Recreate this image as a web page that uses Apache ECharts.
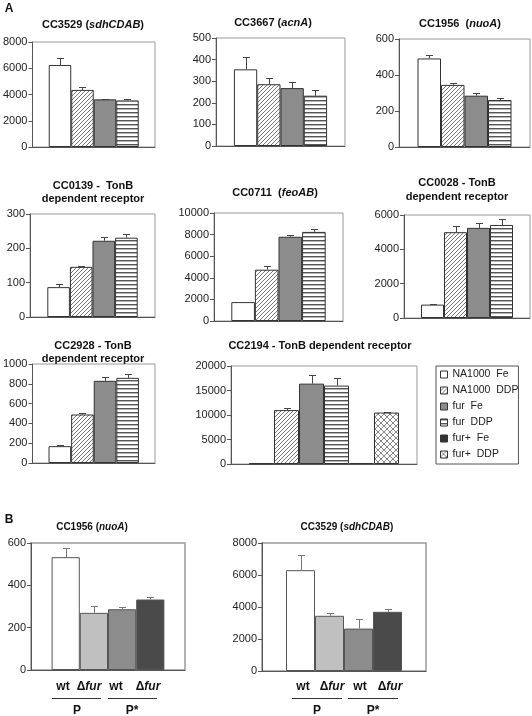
<!DOCTYPE html>
<html><head><meta charset="utf-8">
<script src="https://cdn.jsdelivr.net/npm/echarts@6.0.0/dist/echarts.min.js"></script>
<style>html,body{margin:0;padding:0;background:#fff}#c{width:532px;height:716px}</style>
</head><body><div id="c"></div>
<script>
// ---- data ----
const conditionsA = ['NA1000  Fe', 'NA1000  DDP', 'fur  Fe', 'fur  DDP', 'fur+  Fe', 'fur+  DDP'];
const cc3529 = [6250, 4350, 3630, 3550];
const cc3529Err = [560, 200, 50, 110];
const cc3667 = [355, 286, 268, 233];
const cc3667Err = [55, 27, 30, 27];
const cc1956 = [492, 345, 285, 261];
const cc1956Err = [20, 10, 17, 14];
const cc0139 = [87, 146, 222, 231];
const cc0139Err = [9, 3, 12, 11];
const cc0711 = [1750, 4750, 7800, 8250];
const cc0711Err = [50, 300, 180, 300];
const cc0028 = [780, 5000, 5250, 5420];
const cc0028Err = [30, 350, 300, 350];
const cc2928 = [170, 490, 830, 860];
const cc2928Err = [8, 20, 40, 40];
const cc2194 = [150, 11000, 16400, 16000, 200, 10500];
const cc2194Err = [0, 500, 1800, 1500, 0, 100];
const strainsB = ['wt', 'Δfur', 'wt', 'Δfur'];
const promotersB = ['P', 'P*'];
const bNuoA = [533, 270, 287, 333];
const bNuoAErr = [43, 32, 11, 13];
const bSdh = [6300, 3450, 2650, 3700];
const bSdhErr = [950, 150, 600, 200];

// ---- patterns ----
function pat(size, draw) {
  const c = document.createElement('canvas'); c.width = size; c.height = size;
  const g = c.getContext('2d'); g.fillStyle = '#fff'; g.fillRect(0, 0, size, size);
  draw(g); return { image: c, repeat: 'repeat' };
}
const diag = pat(4, g => { g.fillStyle = '#777'; for (let k = 0; k < 4; k++) g.fillRect(k, 3 - k, 1, 1); });
const horiz = pat(4, g => { g.fillStyle = '#555'; g.fillRect(0, 0, 4, 1); g.fillStyle = '#b5b5b5'; g.fillRect(0, 1, 4, 1); });
const cross = pat(6, g => { g.fillStyle = '#888'; for (let k = 0; k < 6; k++) { g.fillRect(k, k, 1, 1); g.fillRect(k, 5 - k, 1, 1); } });
const colorsA = ['#ffffff', diag, '#8c8c8c', horiz, '#333333', cross];
const colorsB = ['#ffffff', '#c0c0c0', '#8c8c8c', '#4a4a4a'];

const FF = 'Liberation Sans, Arial, Helvetica, sans-serif';
const panels = [
  { v: cc3529, e: cc3529Err, max: 8000, iv: 2000, g: { left: 30, top: 42, width: 125, height: 105 }, bw: 22.5 },
  { v: cc3667, e: cc3667Err, max: 500, iv: 100, g: { left: 216, top: 38, width: 129, height: 108 }, bw: 23.3 },
  { v: cc1956, e: cc1956Err, max: 600, iv: 200, g: { left: 399, top: 39, width: 131, height: 108 }, bw: 23.5 },
  { v: cc0139, e: cc0139Err, max: 300, iv: 100, g: { left: 30, top: 214, width: 125, height: 103 }, bw: 22.6 },
  { v: cc0711, e: cc0711Err, max: 10000, iv: 2000, g: { left: 214, top: 213, width: 129, height: 108 }, bw: 23.6 },
  { v: cc0028, e: cc0028Err, max: 6000, iv: 2000, g: { left: 404, top: 215, width: 126, height: 103 }, bw: 23 },
  { v: cc2928, e: cc2928Err, max: 1000, iv: 200, g: { left: 30, top: 364, width: 125, height: 99 }, bw: 22.6 },
  { v: cc2194, e: cc2194Err, max: 20000, iv: 5000, g: { left: 231, top: 366, width: 186, height: 98 }, bw: 25 },
  { v: bNuoA, e: bNuoAErr, max: 600, iv: 200, g: { left: 31, top: 543, width: 154, height: 127 }, bw: 28.2, B: true },
  { v: bSdh, e: bSdhErr, max: 8000, iv: 2000, g: { left: 262, top: 543, width: 164, height: 128 }, bw: 29, B: true }
];

const grid = [], xAxis = [], yAxis = [], series = [];
panels.forEach((p, gi) => {
  grid.push(Object.assign({ show: true, borderColor: '#999', borderWidth: p.B ? 1.5 : 1, backgroundColor: 'transparent' }, p.g));
  xAxis.push({ type: 'category', gridIndex: gi, data: [''], axisLine: { lineStyle: { color: '#555' } }, axisTick: { show: false }, axisLabel: { show: false } });
  yAxis.push({ type: 'value', gridIndex: gi, min: 0, max: p.max, interval: p.iv, splitLine: { show: false },
    axisLine: { show: true, lineStyle: { color: '#555' } }, axisTick: { show: true, length: 4, lineStyle: { color: '#555' } },
    axisLabel: { fontSize: 11, color: '#222', fontFamily: FF, margin: 5, formatter: v => String(v) } });
  const n = p.v.length;
  p.v.forEach((val, i) => {
    series.push({ type: 'bar', name: p.B ? ('B' + gi + '-' + i) : conditionsA[i], xAxisIndex: gi, yAxisIndex: gi,
      data: [val], barWidth: p.bw, barGap: '0%',
      itemStyle: { color: p.B ? colorsB[i] : colorsA[i], borderColor: p.B ? '#555' : '#333', borderWidth: 1 } });
  });
  series.push({ type: 'custom', xAxisIndex: gi, yAxisIndex: gi, z: 5,
    data: p.v.map((val, i) => [0, val, p.e[i], i]), encode: { x: 0, y: 1 },
    renderItem: (params, api) => {
      const i = api.value(3), val = api.value(1), er = api.value(2);
      if (!er) return null;
      const p0 = api.coord([0, val]), p1 = api.coord([0, val + er]);
      const x = Math.round(p0[0] + (i - (n - 1) / 2) * p.bw) + 0.5;
      const y1 = Math.round(p1[1]) + 0.5;
      const col = p.B ? '#777' : '#444';
      return { type: 'group', children: [
        { type: 'line', shape: { x1: x, y1: p0[1], x2: x, y2: y1 }, style: { stroke: col, lineWidth: 1 } },
        { type: 'line', shape: { x1: x - 3.5, y1: y1, x2: x + 3.5, y2: y1 }, style: { stroke: col, lineWidth: 1 } }
      ] };
    } });
});

function t(text, x, y, size, extra) {
  return { type: 'text', silent: true, style: Object.assign({ text: text, x: x, y: y, align: 'center', verticalAlign: 'middle',
    fontSize: size, fontWeight: 'bold', fontFamily: FF, fill: '#111',
    rich: { i: { fontStyle: 'italic', fontWeight: 'bold', fontSize: size, fontFamily: FF, fill: '#111' } } }, extra || {}) };
}
function ln(x1, x2, y) { return { type: 'line', silent: true, shape: { x1: x1, y1: y, x2: x2, y2: y }, style: { stroke: '#333', lineWidth: 1 } }; }

const graphic = [
  t('A', 9, 9, 12), t('B', 9, 520, 12),
  t('CC3529 ({i|sdhCDAB})', 93, 25, 11),
  t('CC3667 ({i|acnA})', 273, 23, 11),
  t('CC1956  ({i|nuoA})', 460, 24, 11),
  t('CC0139 -  TonB', 93, 186, 11), t('dependent receptor', 93, 199, 11),
  t('CC0711  ({i|feoAB})', 275, 193, 11),
  t('CC0028 - TonB', 457, 183, 11), t('dependent receptor', 457, 197, 11),
  t('CC2928 - TonB', 93, 346, 11), t('dependent receptor', 93, 359, 11),
  t('CC2194 - TonB dependent receptor', 320, 346, 11),
  t('CC1956 ({i|nuoA})', 92, 527, 10), t('CC3529 ({i|sdhCDAB})', 347, 527, 10)
];
const bLabelX = [[63, 89, 116, 148], [303, 332, 360, 390]];
const bLineX = [[[52, 101], [108, 157]], [[292, 342], [348, 398]]];
const bPX = [[77, 132], [317, 373]];
[0, 1].forEach(k => {
  strainsB.forEach((s, i) => {
    const txt = s.startsWith('Δ') ? 'Δ{i|' + s.slice(1) + '}' : s;
    graphic.push(t(txt, bLabelX[k][i], 687, 12));
  });
  bLineX[k].forEach(xx => graphic.push(ln(xx[0], xx[1], 698.5)));
  promotersB.forEach((s, i) => graphic.push(t(s, bPX[k][i], 711, 12)));
});

const chart = echarts.init(document.getElementById('c'), null, { renderer: 'canvas' });
chart.setOption({
  animation: false,
  grid: grid, xAxis: xAxis, yAxis: yAxis, series: series, graphic: graphic,
  legend: { data: conditionsA, orient: 'vertical', left: 436, top: 366, icon: 'rect', itemWidth: 7, itemHeight: 7,
    itemGap: 3, padding: [2, 0, 3, 4], borderColor: '#555', borderWidth: 1, selectedMode: false,
    textStyle: { fontSize: 10.5, color: '#222', fontFamily: FF, lineHeight: 13 },
    itemStyle: { borderColor: '#333', borderWidth: 1 } }
});
</script></body></html>
